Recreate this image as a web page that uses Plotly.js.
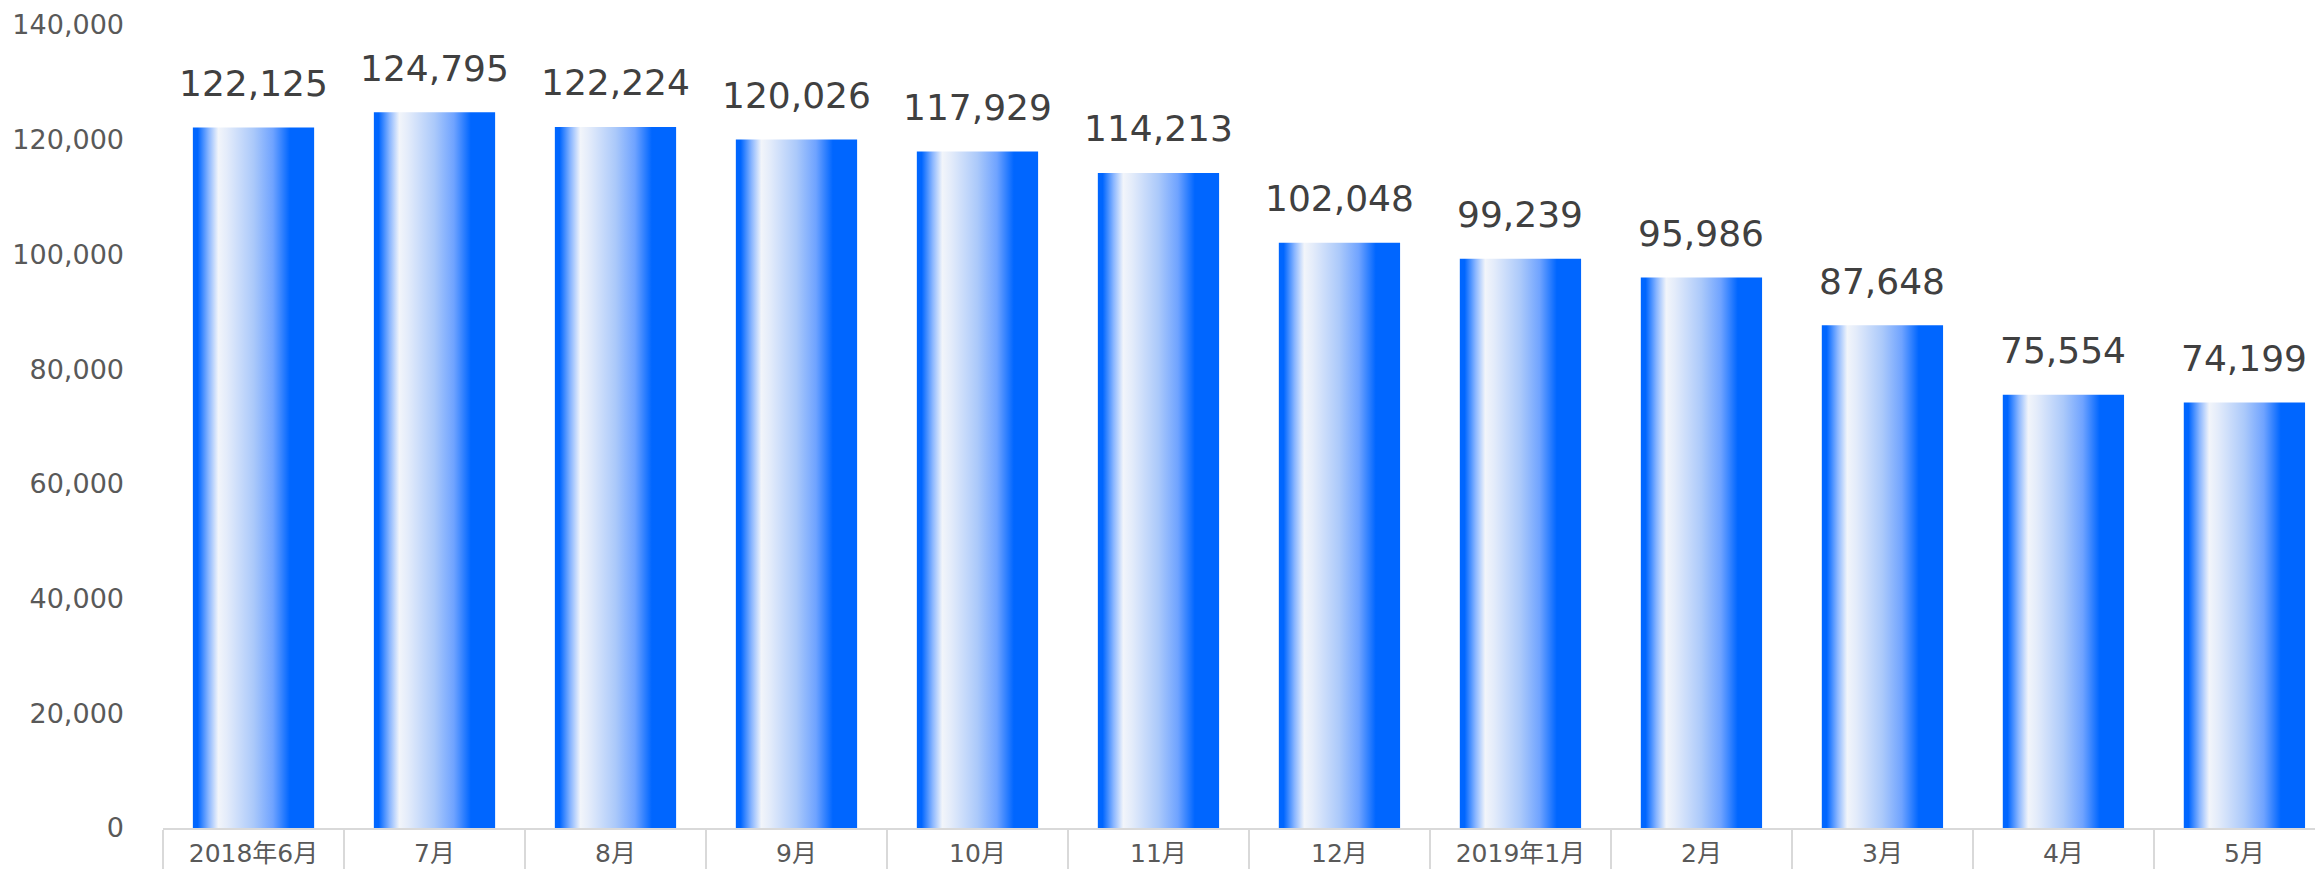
<!DOCTYPE html>
<html>
<head>
<meta charset="utf-8">
<script src="https://cdn.plot.ly/plotly-3.0.1.min.js"></script>
<style>
html,body{margin:0;padding:0;background:#fff;}
#chart{width:2315px;height:869px;}
</style>
</head>
<body>
<div id="chart"></div>
<script>
const categories = ["2018年6月","7月","8月","9月","10月","11月","12月","2019年1月","2月","3月","4月","5月"];
const values = [122125,124795,122224,120026,117929,114213,102048,99239,95986,87648,75554,74199];
const yTickValues = [0,20000,40000,60000,80000,100000,120000,140000];
const yTickLabels = ["0","20,000","40,000","60,000","80,000","100,000","120,000","140,000"];

const FONT = "DejaVu Sans, Noto Sans CJK JP, sans-serif";
const fmt = v => v.toLocaleString("en-US");

const trace = {
  type: "bar",
  x: categories,
  y: values,
  marker: {color: "#0066FF", line: {width: 0}},
  hoverinfo: "none"
};

const annotations = categories.map((c, i) => ({
  x: c, y: values[i], xref: "x", yref: "y",
  text: fmt(values[i]), showarrow: false,
  yanchor: "middle", yshift: 44,
  font: {family: FONT, size: 36, color: "#404040"}
}));

const layout = {
  width: 2315, height: 869,
  margin: {l: 163, r: 0, t: 25, b: 41, pad: 0},
  paper_bgcolor: "#ffffff", plot_bgcolor: "#ffffff",
  showlegend: false,
  bargap: 0.33,
  xaxis: {
    type: "category",
    range: [-0.5, 11.39],
    showgrid: false, zeroline: false,
    showline: true, linecolor: "#D9D9D9", linewidth: 2,
    ticks: "outside", tickson: "boundaries", ticklen: 45, tickwidth: 2, tickcolor: "#D9D9D9",
    tickfont: {family: FONT, size: 25, color: "#595959"},
    ticklabelstandoff: 2
  },
  yaxis: {
    range: [0, 140000],
    tickvals: yTickValues, ticktext: yTickLabels,
    showgrid: false, zeroline: false, showline: false,
    ticks: "", ticklabelstandoff: 38,
    tickfont: {family: FONT, size: 27, color: "#595959"}
  },
  annotations: annotations
};

Plotly.newPlot("chart", [trace], layout, {staticPlot: true, displayModeBar: false}).then(gd => {
  const NS = "http://www.w3.org/2000/svg";
  const defs = gd.querySelector("svg.main-svg defs");
  const grad = document.createElementNS(NS, "linearGradient");
  grad.setAttribute("id", "barGrad");
  grad.setAttribute("x1", "0"); grad.setAttribute("y1", "0");
  grad.setAttribute("x2", "1"); grad.setAttribute("y2", "0");
  const stops = [
    [0, "#0066FF"], [0.04, "#0066FF"], [0.13, "#8AB6FF"], [0.21, "#F2F5FA"],
    [0.28, "#E4ECFA"], [0.50, "#ABC9FA"], [0.66, "#6FA3FF"], [0.80, "#0066FF"], [1, "#0066FF"]
  ];
  stops.forEach(([o, c]) => {
    const s = document.createElementNS(NS, "stop");
    s.setAttribute("offset", o);
    s.setAttribute("stop-color", c);
    grad.appendChild(s);
  });
  defs.appendChild(grad);
  gd.querySelectorAll(".trace.bars .point path").forEach(p => {
    p.style.fill = "url(#barGrad)";
  });
});
</script>
</body>
</html>
